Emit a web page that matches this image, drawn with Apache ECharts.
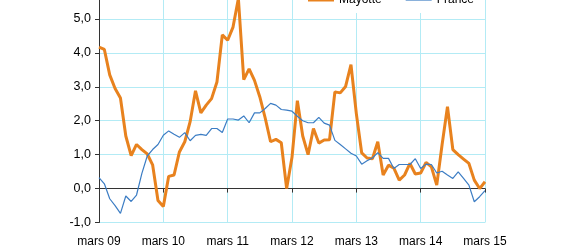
<!DOCTYPE html>
<html>
<head>
<meta charset="utf-8">
<script src="https://cdn.jsdelivr.net/npm/echarts@6/dist/echarts.min.js"></script>
<style>
html,body{margin:0;padding:0;background:#fff;overflow:hidden;}
#chart{width:567px;height:265px;margin-top:-15px;}
</style>
</head>
<body>
<div id="chart"></div>
<script>
// Month names and years used to build the monthly category labels (mars 09 .. mars 15)
var monthNames = ['janv.', 'févr.', 'mars', 'avr.', 'mai', 'juin', 'juil.', 'août', 'sept.', 'oct.', 'nov.', 'déc.'];
var startYear = 9, startMonth = 2, monthCount = 73;

var mayotte = [
  4.17, 4.10, 3.35, 2.95, 2.67, 1.55, 0.97, 1.30, 1.15, 1.02, 0.70, -0.35,
  -0.53, 0.36, 0.40, 1.08, 1.38, 1.97, 2.88, 2.23, 2.46, 2.65, 3.14, 4.53,
  4.37, 4.76, 5.60, 3.21, 3.53, 3.19, 2.70, 2.08, 1.38, 1.45, 1.35, 0.00,
  0.92, 2.59, 1.55, 1.00, 1.77, 1.34, 1.43, 1.44, 2.85, 2.82, 3.01, 3.65,
  2.21, 1.05, 0.90, 0.88, 1.38, 0.40, 0.69, 0.60, 0.25, 0.40, 0.74, 0.43,
  0.46, 0.77, 0.64, 0.10, 1.30, 2.41, 1.15, 1.00, 0.87, 0.74, 0.25, 0.00,
  0.20
];

var france = [
  0.32, 0.14, -0.30, -0.50, -0.73, -0.22, -0.38, -0.19, 0.45, 0.96, 1.15, 1.30,
  1.57, 1.70, 1.60, 1.51, 1.65, 1.41, 1.57, 1.60, 1.57, 1.77, 1.77, 1.65,
  2.05, 2.05, 2.02, 2.14, 1.94, 2.23, 2.23, 2.36, 2.51, 2.46, 2.33, 2.31,
  2.28, 2.13, 2.00, 1.94, 1.94, 2.10, 1.93, 1.87, 1.42, 1.30, 1.17, 1.04,
  0.96, 0.72, 0.82, 0.90, 1.06, 0.89, 0.89, 0.59, 0.71, 0.71, 0.71, 0.88,
  0.59, 0.72, 0.71, 0.46, 0.51, 0.40, 0.30, 0.49, 0.30, 0.10, -0.39, -0.24,
  -0.06
];

var seriesNames = ['Mayotte', 'France'];

var categories = [];
for (var k = 0; k < monthCount; k++) {
  var m = (startMonth + k) % 12;
  var y = startYear + Math.floor((startMonth + k) / 12);
  categories.push(monthNames[m] + ' ' + (y < 10 ? '0' + y : '' + y));
}

var chart = echarts.init(document.getElementById('chart'), null, {renderer: 'canvas'});
var font = 'Liberation Sans, Arial, sans-serif';
chart.setOption({
  animation: false,
  backgroundColor: '#ffffff',
  grid: {left: 99, right: 82, top: 0, bottom: 27.5, containLabel: false, outerBoundsMode: 'none'},
  legend: {
    data: [
      {name: seriesNames[0], icon: 'path://M0,0H26V3H0Z'},
      {name: seriesNames[1], icon: 'path://M0,0H26V1.2H0Z'}
    ],
    left: 300,
    top: 2,
    padding: [7, 6, 7, 8],
    backgroundColor: '#ffffff',
    itemWidth: 26,
    itemHeight: 14,
    itemGap: 24,
    textStyle: {fontFamily: font, fontSize: 12, color: '#000'}
  },
  xAxis: [
    {
      type: 'category',
      data: categories,
      boundaryGap: false,
      position: 'bottom',
      axisLine: {onZero: true, lineStyle: {color: '#333', width: 1}},
      axisTick: {show: true, interval: 11, length: 4, lineStyle: {color: '#333'}},
      axisLabel: {show: false},
      splitLine: {show: true, interval: 11, lineStyle: {color: '#b3ebf5', width: 1}}
    },
    {
      type: 'category',
      data: categories,
      boundaryGap: false,
      position: 'bottom',
      offset: 0,
      axisLine: {show: false, onZero: false},
      axisTick: {show: false},
      axisLabel: {show: true, interval: 11, margin: 13, fontFamily: font, fontSize: 12, color: '#000'},
      splitLine: {show: false}
    }
  ],
  yAxis: {
    type: 'value',
    min: -1, max: 6, interval: 1,
    axisLine: {show: true, lineStyle: {color: '#333', width: 1}},
    axisTick: {show: true, length: 4, lineStyle: {color: '#333'}},
    axisLabel: {margin: 8, fontFamily: font, fontSize: 12.5, color: '#000',
      formatter: function (v) { return v.toFixed(1).replace('.', ','); }},
    splitLine: {show: true, lineStyle: {color: '#b3ebf5', width: 1}}
  },
  series: [
    {name: seriesNames[0], type: 'line', data: mayotte, symbol: 'none', z: 3, xAxisIndex: 0,
      lineStyle: {color: '#e8821e', width: 3}, itemStyle: {color: '#e8821e'}},
    {name: seriesNames[1], type: 'line', data: france, symbol: 'none', z: 4, xAxisIndex: 0,
      lineStyle: {color: '#3c7dc4', width: 1.2}, itemStyle: {color: '#3c7dc4'}}
  ]
});
</script>
</body>
</html>
